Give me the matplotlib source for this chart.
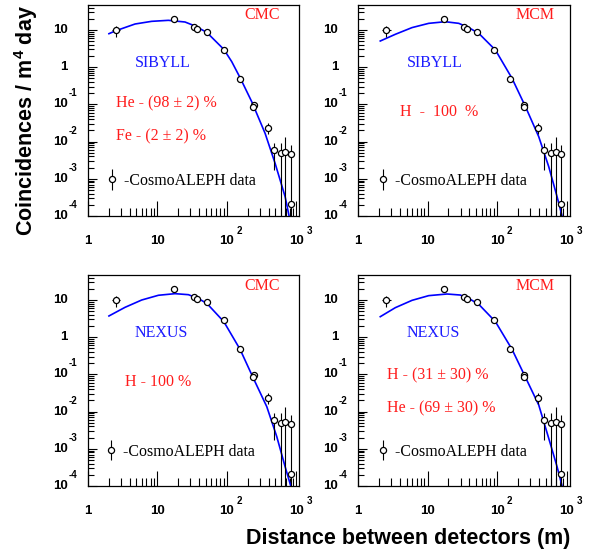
import matplotlib
matplotlib.use("Agg")
import numpy as np
import matplotlib.pyplot as plt
from matplotlib.container import ErrorbarContainer
from matplotlib.legend_handler import HandlerErrorbar
from matplotlib.ticker import FixedLocator, NullFormatter

plt.rcParams["mathtext.fontset"] = "custom"
plt.rcParams["mathtext.rm"] = "Liberation Sans"
plt.rcParams["mathtext.bf"] = "Liberation Sans:bold"

# ── CosmoALEPH data ──────────────────────────────────────────────────────────
dist     = [2.55, 17.3, 33.8, 37.4, 51.5, 90.5, 155, 247, 242, 393, 480, 604, 697, 842, 842]
coinc    = [10.0, 19.8, 12.3, 10.4, 8.65, 2.85, 0.48, 0.098, 0.087, 0.0232,
            0.00583, 0.00494, 0.00537, 0.00465, 0.00021]
coinc_lo = [6.6, 18.6, 11.6, 9.8, 8.2, 2.7, 0.455, 0.092, 0.082, 0.0156,
            0.00173, 1e-6, 1e-6, 1e-6, 0.00018]
coinc_hi = [13.1, 21.0, 13.0, 11.0, 9.1, 3.0, 0.505, 0.104, 0.092, 0.0324,
            0.0093, 0.00895, 0.013, 0.0079, 0.00024]
dist0_lo, dist0_hi = 2.21, 2.94          # horizontal bar of the first point

# ── model curves ─────────────────────────────────────────────────────────────
sib_cmc_x = [2.02, 2.55, 4.80, 8.32, 14.45, 25.1, 35.0, 51.5, 90.6, 117.8, 155.2,
             228.6, 355.6, 495.5, 690.2, 787, 832]
sib_cmc_y = [7.96, 9.59, 14.5, 17.1, 18.2, 16.4, 12.8, 8.65, 3.02, 1.41, 0.524,
             0.118, 0.0167, 0.0026, 3.3e-4, 1.0e-4, 6.0e-5]

sib_mcm_x = [2.09, 3.44, 5.98, 10.4, 18.0, 28.1, 39.1, 54.5, 94.6, 164, 256, 397,
             553, 729, 861, 900]
sib_mcm_y = [5.06, 7.66, 11.6, 15.1, 16.7, 15.1, 11.6, 8.13, 2.90, 0.502, 0.0869,
             0.0136, 0.00212, 3.3e-4, 1e-4, 6.5e-5]

nex_cmc_x = [2.02, 3.44, 5.98, 10.4, 18.0, 28.1, 39.1, 51.5, 90.6, 155.2, 241.5,
             375.8, 523.6, 690.2, 831.8, 870]
nex_cmc_y = [3.72, 6.35, 10.0, 13.4, 14.8, 13.9, 10.9, 8.15, 2.62, 0.472, 0.0783,
             0.0136, 0.00212, 3.3e-4, 1e-4, 6.5e-5]

nex_mcm_x = [2.09, 3.44, 5.98, 10.4, 19.05, 29.6, 41.3, 54.5, 94.6, 164, 256, 397,
             553, 729, 861, 900]
nex_mcm_y = [3.56, 6.22, 9.79, 13.1, 14.5, 13.6, 10.4, 7.66, 2.62, 0.472, 0.0834,
             0.0151, 0.00191, 3.3e-4, 1e-4, 6.5e-5]

x_ticks = [1, 10, 100, 1000]
x_base  = ["1", "10", "10", "10"]
x_exp   = ["", "", "2", "3"]
y_ticks = [1e-4, 1e-3, 1e-2, 1e-1, 1, 10]
y_base  = ["10", "10", "10", "10", "1", "10"]
y_exp   = ["-4", "-3", "-2", "-1", "", ""]

RED   = "#ff1c1c"
BLUE  = "#1c1cff"
SERIF = "Liberation Serif"
SANS  = "Liberation Sans"

fig = plt.figure(figsize=(6.0, 5.52), dpi=100)

W, H = 211.5 / 600, 211 / 552
panels = [
    # left, bottom, curve, model, source, composition lines
    dict(pos=(87.7, 216), cx=sib_cmc_x, cy=sib_cmc_y, model="SIBYLL", src="CMC",
         modpos=(0.356, 0.727), srcpos=(0.823, 0.953),
         comp=[("He - (98 \u00b1 2) %", 0.132, 0.536), ("Fe - (2 \u00b1 2) %", 0.132, 0.376)],
         leg=(0.113, 0.166)),
    dict(pos=(358, 216), cx=sib_mcm_x, cy=sib_mcm_y, model="SIBYLL", src="MCM",
         modpos=(0.364, 0.727), srcpos=(0.837, 0.953),
         comp=[("H  -  100  %", 0.199, 0.493)],
         leg=(0.115, 0.166)),
    dict(pos=(87.7, 486), cx=nex_cmc_x, cy=nex_cmc_y, model="NEXUS", src="CMC",
         modpos=(0.350, 0.724), srcpos=(0.827, 0.949),
         comp=[("H - 100 %", 0.176, 0.494)],
         leg=(0.110, 0.163)),
    dict(pos=(358, 486), cx=nex_mcm_x, cy=nex_mcm_y, model="NEXUS", src="MCM",
         modpos=(0.356, 0.724), srcpos=(0.837, 0.949),
         comp=[("H - (31 \u00b1 30) %", 0.136, 0.526), ("He - (69 \u00b1 30) %", 0.136, 0.370)],
         leg=(0.115, 0.163)),
]

y_err = [np.array(coinc) - np.array(coinc_lo), np.array(coinc_hi) - np.array(coinc)]

for p in panels:
    left, bottom = p["pos"]
    ax = fig.add_axes([left / 600, 1 - bottom / 552, W, H])
    ax.set_xscale("log")
    ax.set_yscale("log")
    ax.set_xlim(1, 1100)
    ax.set_ylim(1e-4, 47)

    ax.plot(p["cx"], p["cy"], color="#0000ff", lw=1.2, zorder=2)
    eb = ax.errorbar(dist, coinc, yerr=y_err, fmt="o", ms=4.4, mfc="white",
                     mec="black", mew=0.9, ecolor="black", elinewidth=0.8,
                     capsize=0, zorder=3)
    ax.errorbar([dist[0]], [coinc[0]], xerr=[[dist[0] - dist0_lo], [dist0_hi - dist[0]]],
                fmt="none", ecolor="black", elinewidth=0.8, capsize=0, zorder=2.9)

    # ROOT-like ticks: inside, only on bottom/left
    ax.xaxis.set_major_locator(FixedLocator(x_ticks))
    ax.xaxis.set_minor_locator(FixedLocator(
        [m * 10 ** e for e in range(0, 3) for m in range(2, 10)]))
    ax.yaxis.set_major_locator(FixedLocator(y_ticks))
    ax.yaxis.set_minor_locator(FixedLocator(
        [m * 10.0 ** e for e in range(-4, 2) for m in range(2, 10)]))
    ax.xaxis.set_major_formatter(NullFormatter())
    ax.xaxis.set_minor_formatter(NullFormatter())
    ax.yaxis.set_major_formatter(NullFormatter())
    ax.yaxis.set_minor_formatter(NullFormatter())
    ax.tick_params(which="both", direction="in", top=False, right=False, width=0.8)
    ax.xaxis.set_tick_params(which="major", length=11)
    ax.xaxis.set_tick_params(which="minor", length=5.5)
    ax.yaxis.set_tick_params(which="major", length=6.5)
    ax.yaxis.set_tick_params(which="minor", length=4.3)
    for sp in ax.spines.values():
        sp.set_linewidth(0.9)

    # tick labels, base + raised exponent
    for v, b, e in zip(x_ticks, x_base, x_exp):
        ax.annotate(b, xy=(v, 0), xycoords=ax.get_xaxis_transform(), xytext=(0, -25),
                    textcoords="offset pixels", ha="center", va="center",
                    fontsize=9.5, fontweight="bold", family=SANS)
        if e:
            ax.annotate(e, xy=(v, 0), xycoords=ax.get_xaxis_transform(), xytext=(10, -15),
                        textcoords="offset pixels", ha="left", va="center",
                        fontsize=7, fontweight="bold", family=SANS)
    for v, b, e in zip(y_ticks, y_base, y_exp):
        ax.annotate(b, xy=(0, v), xycoords=ax.get_yaxis_transform(), xytext=(-20, 0),
                    textcoords="offset pixels", ha="right", va="center",
                    fontsize=9.5, fontweight="bold", family=SANS)
        if e:
            ax.annotate(e, xy=(0, v), xycoords=ax.get_yaxis_transform(), xytext=(-19, 11),
                        textcoords="offset pixels", ha="left", va="center",
                        fontsize=7, fontweight="bold", family=SANS)

    ax.text(*p["srcpos"], p["src"], transform=ax.transAxes, ha="center", va="center",
            color=RED, fontsize=11.5, family=SERIF)
    ax.text(*p["modpos"], p["model"], transform=ax.transAxes, ha="center", va="center",
            color=BLUE, fontsize=11.5, family=SERIF)
    for txt, tx, ty in p["comp"]:
        ax.text(tx, ty, txt, transform=ax.transAxes, ha="left", va="center",
                color=RED, fontsize=11.5, family=SERIF)

    lx, ly = p["leg"]
    ax.legend([eb], ["-CosmoALEPH data"], loc="center left",
              bbox_to_anchor=(lx - 0.058, ly), frameon=False, numpoints=1,
              handlelength=0.8, handletextpad=0.35, borderpad=0.4, borderaxespad=0,
              prop={"family": SERIF, "size": 11.4},
              handler_map={ErrorbarContainer: HandlerErrorbar(yerr_size=0.65)})

fig.text(33 / 600, 1 - 5 / 552, r"Coincidences / m$^{\mathbf{4}}$ day", rotation=90,
         rotation_mode="anchor", ha="right", va="baseline", fontsize=15.5,
         fontweight="bold", family=SANS)
fig.text(570 / 600, 1 - 544 / 552, "Distance between detectors (m)", ha="right",
         va="baseline", fontsize=15.5, fontweight="bold", family=SANS)

fig.savefig("out.png", dpi=100)
